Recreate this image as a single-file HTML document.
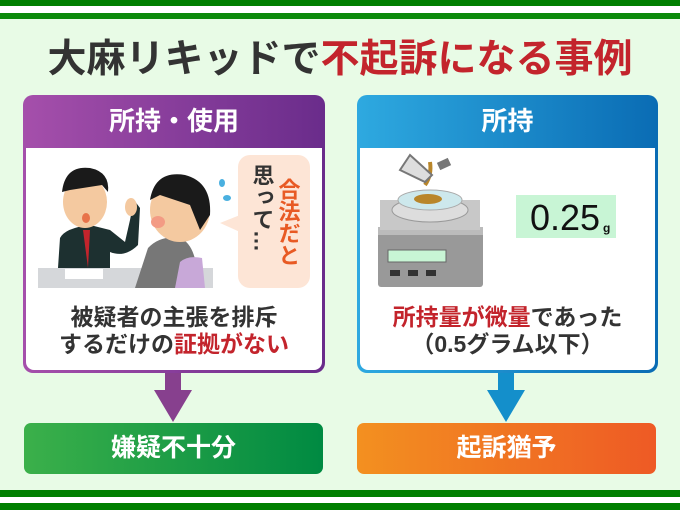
<!DOCTYPE html>
<html><head><meta charset="utf-8"><style>
*{margin:0;padding:0;box-sizing:border-box}
body{width:680px;height:510px;background:#e8fbe6;position:relative;overflow:hidden;font-family:"Liberation Sans","Noto Sans CJK JP",sans-serif;font-weight:bold}
.abs{position:absolute}
.bar{position:absolute;left:0;width:680px;background:#007f00}
.title{position:absolute;left:0;width:680px;top:35px;text-align:center;font-size:39px;color:#333;line-height:50px}
.title span{color:#c3242c}
.panel{position:absolute;top:95px;height:278px;border-radius:10px}
.panel .in{position:absolute;left:3px;right:3px;top:53px;bottom:3px;background:#fff;border-radius:0 0 8px 8px}
.panel .hd{position:absolute;left:0;right:0;top:6px;text-align:center;color:#fff;font-size:26px;line-height:40px}
.txt{position:absolute;left:0;right:0;text-align:center;font-size:23px;color:#333;line-height:27px}
.txt span{color:#c3242c}
.res{position:absolute;top:423px;height:51px;border-radius:7px;color:#fff;font-size:25px;text-align:center;line-height:51px}
</style></head><body>
<div class="bar" style="top:0;height:6px"></div>
<div class="bar" style="top:13px;height:6px;background:#0a8a0a"></div>
<div class="abs" style="top:6px;height:7px;width:680px;background:#fff"></div>
<div class="bar" style="top:490px;height:7px"></div>
<div class="abs" style="top:497px;height:6px;width:680px;background:#fff"></div>
<div class="bar" style="top:503px;height:7px"></div>

<div class="title">大麻リキッドで<span>不起訴になる事例</span></div>

<div class="panel" style="left:23px;width:302px;background:linear-gradient(90deg,#a54fab,#6a2c8b)">
<div class="hd">所持・使用</div>
<div class="in"></div>
</div>
<div class="panel" style="left:357px;width:301px;background:linear-gradient(90deg,#2ea9e0,#0a6cb4)">
<div class="hd">所持</div>
<div class="in"></div>
</div>

<svg class="abs" style="left:30px;top:150px" width="290" height="140">
<rect x="8" y="118" width="175" height="20" fill="#d5d7da"/>
<rect x="35" y="119" width="38" height="10" fill="#fff"/>
<path d="M28 118 L30 88 Q35 78 60 75 L80 80 L95 92 L100 70 L104 50 L110 58 L108 95 Q95 108 80 102 L80 118Z" fill="#1d3030"/>
<path d="M53 80 L58 118 L60 80Z" fill="#c3242c"/>
<ellipse cx="55" cy="52" rx="22" ry="26" fill="#f4c9a0"/>
<path d="M32 42 Q35 15 60 18 Q80 22 78 42 L72 35 L40 40Z" fill="#1a1a1a"/>
<ellipse cx="56" cy="68" rx="4" ry="5" fill="#e8734a"/>
<ellipse cx="101" cy="57" rx="6" ry="9" fill="#f4c9a0"/>
<path d="M105 138 L118 98 Q130 85 150 88 Q168 95 168 138Z" fill="#777"/>
<ellipse cx="150" cy="60" rx="30" ry="32" fill="#f4c9a0"/>
<path d="M120 50 Q125 20 155 25 Q182 32 180 65 L170 80 L160 55 L130 45Z" fill="#1a1a1a"/>
<ellipse cx="128" cy="72" rx="7" ry="6" fill="#f39b84"/>
<ellipse cx="192" cy="33" rx="3" ry="4" fill="#4ab0e0"/>
<ellipse cx="197" cy="48" rx="4" ry="3" fill="#4ab0e0"/>
<path d="M145 138 L150 112 Q158 105 172 108 L175 138Z" fill="#c8a8d8"/>
<rect x="208" y="5" width="72" height="133" rx="12" fill="#fde5d6"/>
<path d="M210 65 L190 73 L210 82Z" fill="#fde5d6"/>
<text x="258" y="28" font-size="22" fill="#e85a24" font-weight="bold" style="writing-mode:vertical-rl">合法だと</text>
<text x="232" y="14" font-size="22" fill="#333" font-weight="bold" style="writing-mode:vertical-rl">思って…</text>
</svg>

<svg class="abs" style="left:370px;top:150px" width="280" height="140">
<rect x="8" y="77" width="105" height="60" rx="3" fill="#999"/>
<rect x="8" y="77" width="105" height="8" fill="#bbb"/>
<rect x="10" y="50" width="100" height="30" fill="#c8c8c8"/>
<rect x="18" y="100" width="58" height="12" fill="#c8f5d5" stroke="#666"/>
<rect x="20" y="120" width="10" height="6" fill="#333"/><rect x="38" y="120" width="10" height="6" fill="#333"/><rect x="56" y="120" width="10" height="6" fill="#333"/>
<ellipse cx="60" cy="60" rx="38" ry="12" fill="#ddd" stroke="#999"/>
<ellipse cx="60" cy="50" rx="32" ry="10" fill="#cde8ec" stroke="#aaa"/>
<ellipse cx="58" cy="49" rx="14" ry="5" fill="#b9862a"/>
<path d="M55 35 Q62 25 60 12" stroke="#b9862a" stroke-width="4" fill="none"/>
<path d="M30 20 L40 5 L62 25 L55 32Z" fill="#ddd" stroke="#777" stroke-width="2"/>
<rect x="68" y="10" width="12" height="8" fill="#777" transform="rotate(-25 74 14)"/>
<rect x="146" y="45" width="100" height="43" fill="#c8f5d5"/>
<text x="160" y="80" font-family="Liberation Sans,sans-serif" font-weight="normal" font-size="36" fill="#111">0.25</text>
<text x="233" y="82" font-size="12" fill="#111">g</text>
</svg>

<div class="txt" style="left:23px;width:302px;top:304px">被疑者の主張を排斥<br>するだけの<span>証拠がない</span></div>
<div class="txt" style="left:357px;width:301px;top:304px"><span>所持量が微量</span>であった<br>（0.5グラム以下）</div>

<svg class="abs" style="left:0;top:373px" width="680" height="50">
<rect x="165" y="0" width="16" height="18" fill="#87408e"/>
<polygon points="154,17 192,17 173,49" fill="#87408e"/>
<rect x="498" y="0" width="16" height="18" fill="#148fcb"/>
<polygon points="487,17 525,17 506,49" fill="#148fcb"/>
</svg>

<div class="res" style="left:24px;width:299px;background:linear-gradient(90deg,#3bb04a,#008a42)">嫌疑不十分</div>
<div class="res" style="left:357px;width:299px;background:linear-gradient(90deg,#f39020,#ee5a25)">起訴猶予</div>
</body></html>
